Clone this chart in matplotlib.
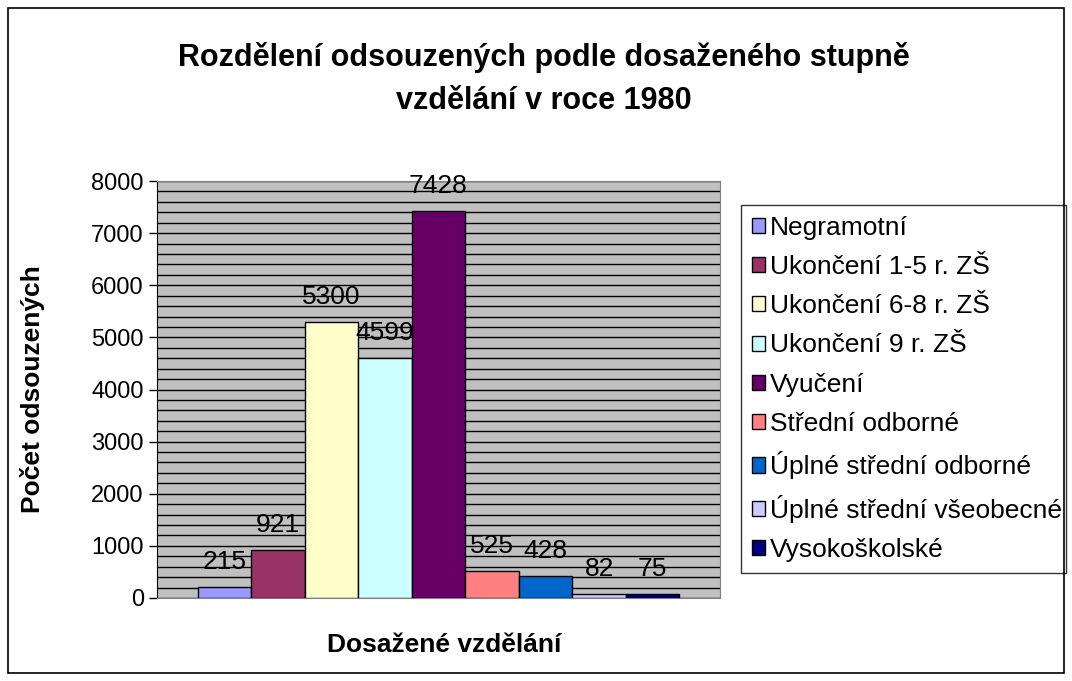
import matplotlib.pyplot as plt
import numpy as np

plt.rcParams['font.family'] = ['Liberation Sans', 'DejaVu Sans']

# data
categories = ['Negramotní', 'Ukončení 1-5 r. ZŠ', 'Ukončení 6-8 r. ZŠ', 'Ukončení 9 r. ZŠ',
              'Vyučení', 'Střední odborné', 'Úplné střední odborné',
              'Úplné střední všeobecné', 'Vysokoškolské']
counts = [215, 921, 5300, 4599, 7428, 525, 428, 82, 75]
colors = ['#9999FF', '#993366', '#FFFFCC', '#CCFFFF', '#660066',
          '#FF8080', '#0066CC', '#CCCCFF', '#000080']

fig = plt.figure(figsize=(10.72, 6.81), dpi=100)
ax = fig.add_axes([157 / 1072, 1 - 598 / 681, 563 / 1072, 417 / 681])
ax.set_facecolor('#C0C0C0')

n = len(categories)
w = 0.856 / n
x = (np.arange(n) - (n - 1) / 2) * w
for xi, c, col, lab in zip(x, counts, colors, categories):
    ax.bar(xi, c, width=w, color=col, edgecolor='black', linewidth=1, label=lab, zorder=3)
    ax.text(xi, c + 250, str(c), ha='center', va='bottom', fontsize=19, zorder=4)

ax.set_xlim(-0.5, 0.5)
ax.set_ylim(0, 8000)
ax.set_yticks(np.arange(0, 8001, 1000))
ax.set_yticks(np.arange(0, 8001, 200), minor=True)
ax.grid(axis='y', which='both', color='black', linewidth=1, zorder=1)
ax.set_xticks([])
ax.tick_params(axis='y', which='major', labelsize=17, length=6, direction='out', width=1)
ax.tick_params(axis='y', which='minor', length=0)
for side in ['top', 'right', 'bottom']:
    ax.spines[side].set_color('#808080')
ax.spines['left'].set_color('black')

ax.set_ylabel('Počet odsouzených', fontsize=19, fontweight='bold')
ax.yaxis.set_label_coords(-0.199, 0.5)
ax.set_xlabel('Dosažené vzdělání', fontsize=19, fontweight='bold')
ax.xaxis.set_label_coords(0.51, -0.113)
ax.xaxis.label.set_va('center')

fig.text(544 / 1072, 1 - 79 / 681, 'Rozdělení odsouzených podle dosaženého stupně\nvzdělání v roce 1980',
         ha='center', va='center', fontsize=22, fontweight='bold', linespacing=1.55)

leg = ax.legend(loc='upper left', bbox_to_anchor=(741 / 1072, 1 - 572 / 681, 325 / 1072, 367 / 681),
                bbox_transform=fig.transFigure, mode='expand', fontsize=19, frameon=True,
                fancybox=False, edgecolor='black', handlelength=0.5, handleheight=0.5,
                handletextpad=0.2, labelspacing=0.58, borderaxespad=0, borderpad=0.4)
leg.get_frame().set_linewidth(1)

# outer border
fig.patches.append(plt.Rectangle((8 / 1072, 8 / 681), 1056 / 1072, 1 - 16 / 681,
                                 transform=fig.transFigure, fill=False,
                                 edgecolor='black', linewidth=1.2))

fig.savefig('out.png', dpi=100, facecolor='white')
